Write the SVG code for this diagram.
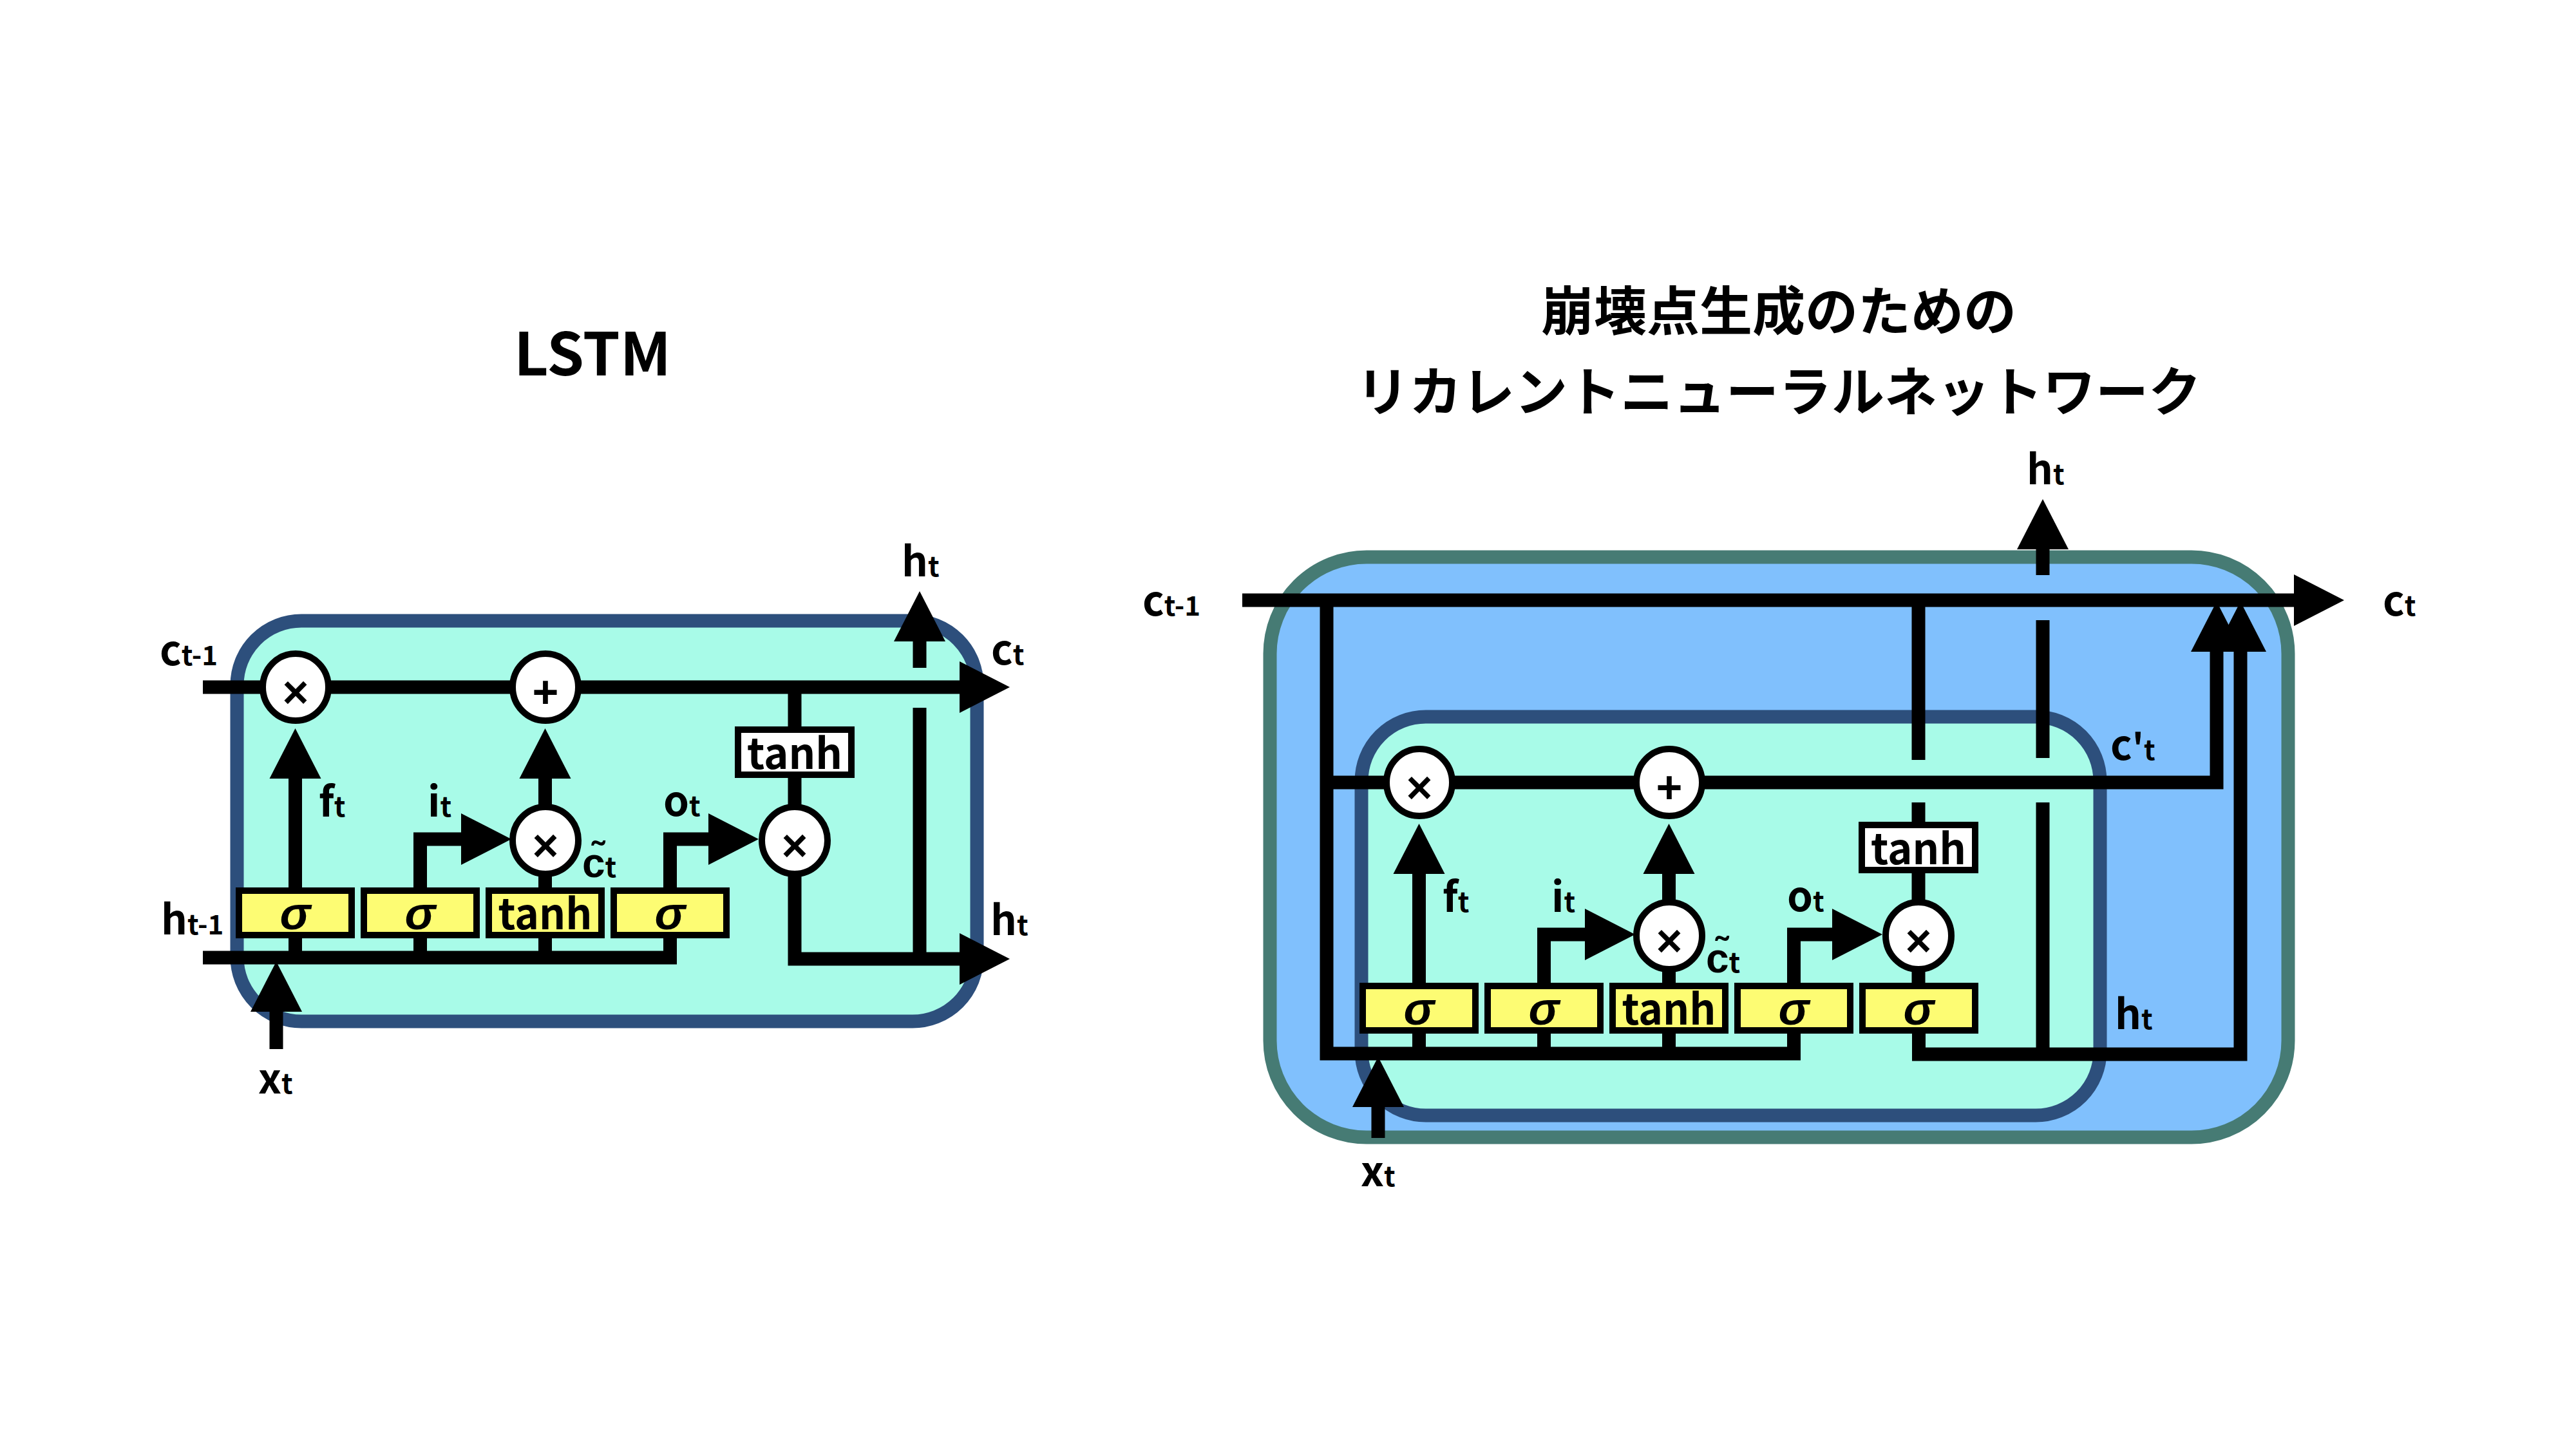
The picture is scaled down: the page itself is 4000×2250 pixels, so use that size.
<svg xmlns="http://www.w3.org/2000/svg" xmlns:xlink="http://www.w3.org/1999/xlink" width="4000" height="2250" viewBox="0 0 4000 2250">
<style>
.ln{fill:none;stroke:#000;stroke-width:21;stroke-linejoin:miter;stroke-linecap:butt}
.ah{fill:#000}
.op{fill:#fff;stroke:#000;stroke-width:10}
.gate{fill:#fdfc73;stroke:#000;stroke-width:10}
.tb{fill:#fff;stroke:#000;stroke-width:10}
.cell{fill:#a8fbe8;stroke:#2d4f7c;stroke-width:21}
.outer{fill:#80c0fd;stroke:#467b74;stroke-width:21}
text{font-family:"Noto Sans CJK JP","Liberation Sans",sans-serif;font-weight:700;fill:#000}
.lab{font-size:64px}
.sub{font-size:42px}
.sym{font-family:"Liberation Sans",sans-serif;font-size:70px;text-anchor:middle}
.sig{font-family:"Liberation Sans",sans-serif;font-style:italic;font-size:72px;text-anchor:middle}
.fn{font-size:66px;text-anchor:middle}
.title{font-size:82px;text-anchor:middle}
</style>
<defs>
<path id="up" d="M-40,0 L0,-78 L40,0 Z"/>
<path id="rt" d="M0,-40 L78,0 L0,40 Z"/>
</defs>
<rect width="4000" height="2250" fill="#fff"/>

<!-- ===== LEFT: LSTM ===== -->
<text id="title-lstm" class="title" x="920" y="583" style="font-size:92px" textLength="244" lengthAdjust="spacingAndGlyphs">LSTM</text>
<g id="lstm-cell"><rect class="cell" x="368" y="964" width="1149" height="622" rx="100" ry="100"/></g>

<g id="connectors-left">
<path class="ln" d="M315,1067 H1492"/>
<path class="ln" d="M458.5,1383 V1207"/>
<path class="ln" d="M652.5,1383 V1303 H718"/>
<path class="ln" d="M846.5,1383 V1207"/>
<path class="ln" d="M1040.5,1383 V1303 H1102"/>
<path class="ln" d="M1234,1067 V1133"/>
<path class="ln" d="M1234,1203 V1489 H1492"/>
<path class="ln" d="M1428,1099 V1489"/>
<path class="ln" d="M1428,1037 V994"/>
<path class="ln" d="M315,1487 H1040.5 V1452"/>
<path class="ln" d="M458.5,1452 V1487 M652.5,1452 V1487 M846.5,1452 V1487"/>
<path class="ln" d="M429,1629 V1567"/>
<use xlink:href="#up" class="ah" x="458.5" y="1209"/>
<use xlink:href="#up" class="ah" x="846.5" y="1209"/>
<use xlink:href="#up" class="ah" x="1428" y="996"/>
<use xlink:href="#up" class="ah" x="429" y="1571"/>
<use xlink:href="#rt" class="ah" x="716" y="1303"/>
<use xlink:href="#rt" class="ah" x="1100" y="1303"/>
<use xlink:href="#rt" class="ah" x="1490" y="1067"/>
<use xlink:href="#rt" class="ah" x="1490" y="1489"/>
</g>

<g id="l-mul-f"><ellipse class="op" cx="459" cy="1067" rx="51" ry="52"/><text class="sym" x="459" y="1099">×</text></g>
<g id="l-add"><ellipse class="op" cx="847" cy="1067" rx="51" ry="52"/><text class="sym" x="847" y="1099">+</text></g>
<g id="l-mul-i"><ellipse class="op" cx="847" cy="1305" rx="51" ry="52"/><text class="sym" x="847" y="1337">×</text></g>
<g id="l-mul-o"><ellipse class="op" cx="1234" cy="1305" rx="51" ry="52"/><text class="sym" x="1234" y="1337">×</text></g>
<g id="l-gate-f"><rect class="gate" x="371" y="1383" width="175" height="69"/><text class="sig" x="458.5" y="1443">σ</text></g>
<g id="l-gate-i"><rect class="gate" x="565" y="1383" width="175" height="69"/><text class="sig" x="652.5" y="1443">σ</text></g>
<g id="l-gate-c"><rect class="gate" x="759" y="1383" width="175" height="69"/><text class="fn" x="846.5" y="1443" textLength="146" lengthAdjust="spacingAndGlyphs">tanh</text></g>
<g id="l-gate-o"><rect class="gate" x="953" y="1383" width="175" height="69"/><text class="sig" x="1040.5" y="1443">σ</text></g>
<g id="l-tanh"><rect class="tb" x="1146" y="1133" width="176" height="70"/><text class="fn" x="1234" y="1194" textLength="148" lengthAdjust="spacingAndGlyphs">tanh</text></g>

<g id="labels-left">
<text class="lab" x="248" y="1033">c<tspan class="sub">t-1</tspan></text>
<text class="lab" x="250" y="1451">h<tspan class="sub">t-1</tspan></text>
<text class="lab" x="1539" y="1032">c<tspan class="sub">t</tspan></text>
<text class="lab" x="1400" y="895">h<tspan class="sub">t</tspan></text>
<text class="lab" x="1538" y="1452">h<tspan class="sub">t</tspan></text>
<text class="lab" x="401" y="1698">x<tspan class="sub">t</tspan></text>
<text class="lab" x="495" y="1268">f<tspan class="sub">t</tspan></text>
<text class="lab" x="664" y="1268">i<tspan class="sub">t</tspan></text>
<text class="lab" x="1030" y="1267">o<tspan class="sub">t</tspan></text>
<text class="lab" x="904" y="1362">c&#771;<tspan class="sub">t</tspan></text>
</g>

<!-- ===== RIGHT ===== -->
<text id="title-jp-1" class="title" x="2762" y="513">崩壊点生成のための</text>
<text id="title-jp-2" class="title" x="2762" y="638">リカレントニューラルネットワーク</text>
<g id="outer-cell"><rect class="outer" x="1972" y="865" width="1581" height="901" rx="150" ry="150"/></g>
<g id="inner-cell"><rect class="cell" x="2114" y="1113" width="1147" height="619" rx="100" ry="100"/></g>

<g id="connectors-right">
<path class="ln" d="M1929,932 H3564"/>
<path class="ln" d="M2060,932 V1636 H2785.5 V1600"/>
<path class="ln" d="M2203.5,1600 V1636 M2397.5,1600 V1636 M2591.5,1600 V1636"/>
<path class="ln" d="M2060,1215 H3442 V1010"/>
<path class="ln" d="M2203.5,1531 V1355"/>
<path class="ln" d="M2397.5,1531 V1451 H2463"/>
<path class="ln" d="M2591.5,1531 V1355"/>
<path class="ln" d="M2785.5,1531 V1451 H2847"/>
<path class="ln" d="M2979,932 V1180 M2979,1246 V1281"/>
<path class="ln" d="M2979,1351 V1531"/>
<path class="ln" d="M2979.5,1600 V1637 H3479 V1010"/>
<path class="ln" d="M3172,1637 V1246 M3172,1177 V963 M3172,893 V851"/>
<path class="ln" d="M2140,1767 V1717"/>
<use xlink:href="#rt" class="ah" x="3562" y="932"/>
<use xlink:href="#up" class="ah" x="3442" y="1012"/>
<use xlink:href="#up" class="ah" x="3479" y="1012"/>
<use xlink:href="#up" class="ah" x="3172" y="853"/>
<use xlink:href="#up" class="ah" x="2140" y="1719"/>
<use xlink:href="#up" class="ah" x="2203.5" y="1357"/>
<use xlink:href="#up" class="ah" x="2591.5" y="1357"/>
<use xlink:href="#rt" class="ah" x="2461" y="1451"/>
<use xlink:href="#rt" class="ah" x="2845" y="1451"/>
</g>

<g id="r-mul-f"><ellipse class="op" cx="2204" cy="1215" rx="51" ry="52"/><text class="sym" x="2204" y="1247">×</text></g>
<g id="r-add"><ellipse class="op" cx="2592" cy="1215" rx="51" ry="52"/><text class="sym" x="2592" y="1247">+</text></g>
<g id="r-mul-i"><ellipse class="op" cx="2592" cy="1453" rx="51" ry="52"/><text class="sym" x="2592" y="1485">×</text></g>
<g id="r-mul-o"><ellipse class="op" cx="2979" cy="1453" rx="51" ry="52"/><text class="sym" x="2979" y="1485">×</text></g>
<g id="r-gate-f"><rect class="gate" x="2116" y="1531" width="175" height="69"/><text class="sig" x="2203.5" y="1591">σ</text></g>
<g id="r-gate-i"><rect class="gate" x="2310" y="1531" width="175" height="69"/><text class="sig" x="2397.5" y="1591">σ</text></g>
<g id="r-gate-c"><rect class="gate" x="2504" y="1531" width="175" height="69"/><text class="fn" x="2591.5" y="1591" textLength="146" lengthAdjust="spacingAndGlyphs">tanh</text></g>
<g id="r-gate-o"><rect class="gate" x="2698" y="1531" width="175" height="69"/><text class="sig" x="2785.5" y="1591">σ</text></g>
<g id="r-gate-h"><rect class="gate" x="2892" y="1531" width="175" height="69"/><text class="sig" x="2979.5" y="1591">σ</text></g>
<g id="r-tanh"><rect class="tb" x="2891" y="1281" width="176" height="70"/><text class="fn" x="2979" y="1342" textLength="148" lengthAdjust="spacingAndGlyphs">tanh</text></g>

<g id="labels-right">
<text class="lab" x="1774" y="956">c<tspan class="sub">t-1</tspan></text>
<text class="lab" x="3700" y="956">c<tspan class="sub">t</tspan></text>
<text class="lab" x="3147" y="752">h<tspan class="sub">t</tspan></text>
<text class="lab" x="3277" y="1180">c<tspan style="font-size:56px">'</tspan><tspan class="sub">t</tspan></text>
<text class="lab" x="3284" y="1598">h<tspan class="sub">t</tspan></text>
<text class="lab" x="2113" y="1842">x<tspan class="sub">t</tspan></text>
<text class="lab" x="2240" y="1416">f<tspan class="sub">t</tspan></text>
<text class="lab" x="2409" y="1416">i<tspan class="sub">t</tspan></text>
<text class="lab" x="2775" y="1415">o<tspan class="sub">t</tspan></text>
<text class="lab" x="2649" y="1510">c&#771;<tspan class="sub">t</tspan></text>
</g>
</svg>
